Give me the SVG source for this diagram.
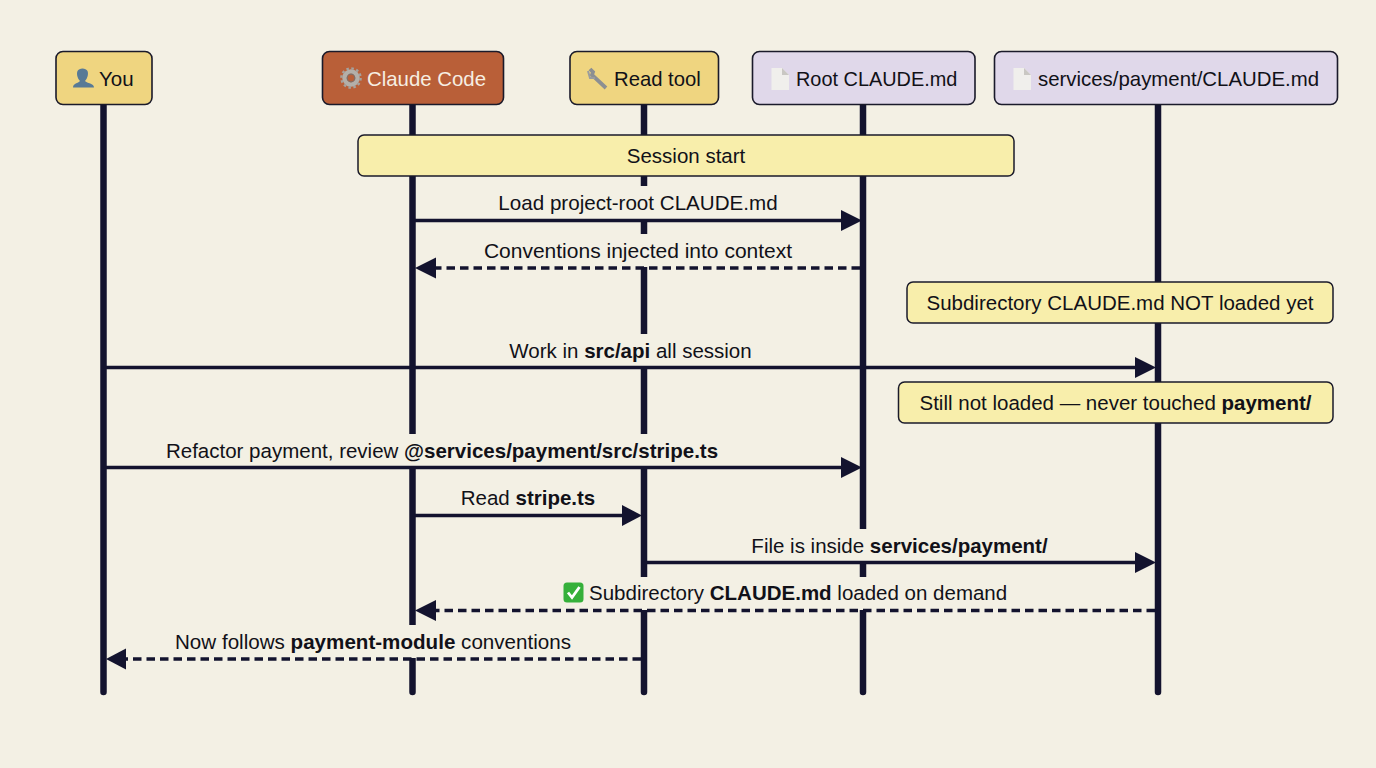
<svg xmlns="http://www.w3.org/2000/svg" width="1376" height="768" viewBox="0 0 1376 768">
<style>
text{font-family:"Liberation Sans",Arial,sans-serif;font-size:20.5px;fill:#111118}
.m{text-anchor:middle}
.b{font-weight:700}
.node{stroke:#1a1a2a;stroke-width:1.6}
.life{stroke:#13132e;stroke-width:6.5;stroke-linecap:round;fill:none}
.msg{stroke:#13132e;stroke-width:3.6;fill:none}
.dash{stroke-dasharray:8.5 5}
.head{fill:#13132e}
.bg{fill:#f3f0e4}
.note{fill:#f8eeab;stroke:#1a1a2a;stroke-width:1.5}
</style>
<rect width="1376" height="768" fill="#f3f0e4"/>
<g id="lifelines">
<path class="life" d="M103.5 105V692"/>
<path class="life" d="M412.5 105V692"/>
<path class="life" d="M644 105V692"/>
<path class="life" d="M863 105V692"/>
<path class="life" d="M1158 105V692"/>
</g>
<g id="label-backgrounds">
<rect class="bg" x="496" y="186" width="284" height="34"/>
<rect class="bg" x="482" y="234" width="312" height="33"/>
<rect class="bg" x="508" y="334" width="245" height="33"/>
<rect class="bg" x="163" y="434" width="558" height="33"/>
<rect class="bg" x="750" y="529" width="299" height="33"/>
<rect class="bg" x="561" y="577" width="446" height="33"/>
<rect class="bg" x="172" y="625" width="402" height="33"/>
</g>
<g id="connectors">
<path class="msg" d="M415 220.500H842"/><path class="head" d="M841 210L862 220.500L841 231Z"/>
<path class="msg dash" d="M860 268H436"/><path class="head" d="M436 257.500L415 268L436 278.500Z"/>
<path class="msg" d="M106 367.500H1136"/><path class="head" d="M1135 357L1156 367.500L1135 378Z"/>
<path class="msg" d="M106 467.500H842"/><path class="head" d="M841 457L862 467.500L841 478Z"/>
<path class="msg" d="M415 515.500H623"/><path class="head" d="M622 505L642 515.500L622 526Z"/>
<path class="msg" d="M647 562.500H1136"/><path class="head" d="M1135 552L1156 562.500L1135 573Z"/>
<path class="msg dash" d="M1155 610.500H436"/><path class="head" d="M436 600L415 610.500L436 621Z"/>
<path class="msg dash" d="M641 659H125"/><path class="head" d="M126 648.500L106 659L126 669.500Z"/>
</g>
<g id="labels">
<text class="m" x="638" y="210" style="font-size:20.6px">Load project-root CLAUDE.md</text>
<text class="m" x="638" y="258" style="font-size:21px">Conventions injected into context</text>
<text class="m" x="630.500" y="358">Work in <tspan class="b">src/api</tspan> all session</text>
<text class="m" x="442" y="458">Refactor payment, review <tspan class="b">@services/payment/src/stripe.ts</tspan></text>
<text class="m" x="528" y="505">Read <tspan class="b">stripe.ts</tspan></text>
<text class="m" x="899.500" y="553">File is inside <tspan class="b">services/payment/</tspan></text>
<text x="589" y="600">Subdirectory <tspan class="b">CLAUDE.md</tspan> loaded on demand</text>
<text class="m" x="373" y="649" style="font-size:20.6px">Now follows <tspan class="b">payment-module</tspan> conventions</text>
</g>
<g id="note-session"><rect class="note" x="358" y="135" width="656" height="41" rx="6"/><text class="m" x="686" y="163">Session start</text></g>
<g id="note-not-loaded"><rect class="note" x="907" y="282" width="426" height="41" rx="6"/><text class="m" x="1120" y="310">Subdirectory CLAUDE.md NOT loaded yet</text></g>
<g id="note-still"><rect class="note" x="898.500" y="382" width="434.500" height="41" rx="6"/><text class="m" x="1115.500" y="410">Still not loaded — never touched <tspan class="b">payment/</tspan></text></g>
<g id="check-icon">
<rect x="563.500" y="582.500" width="20" height="20" rx="3.500" fill="#35b03a"/>
<path d="M568 592.500L572 597.500L579.500 587" fill="none" stroke="#fff" stroke-width="2.800"/>
</g>
<g id="node-you">
<rect class="node" x="56" y="51.500" width="96" height="53" rx="7" fill="#efd580"/>
<path d="M73 87.500C73 83 78 83.500 80 81C77 78 76.500 73 77.500 71C79 67.500 86 67.500 87.500 71C88.500 73 88 78 85 81C87 83.500 94 83 94 87.500Z" fill="#587a96"/>
<text x="99" y="86">You</text>
</g>
<g id="node-claude">
<rect class="node" x="322.500" y="51.500" width="181" height="53" rx="7" fill="#b95f38"/>
<circle cx="351" cy="78" r="6.500" fill="none" stroke="#b3afa9" stroke-width="4.500"/>
<circle cx="351" cy="78" r="3.800" fill="none" stroke="#7f6f68" stroke-width="1.200"/>
<circle cx="351" cy="78" r="9.600" fill="none" stroke="#a5a29e" stroke-width="2.400" stroke-dasharray="2.500 2.530"/>
<text x="367" y="86" style="fill:#f6eee2;font-size:20.4px">Claude Code</text>
</g>
<g id="node-read">
<rect class="node" x="570" y="51.500" width="148.500" height="53" rx="7" fill="#efd580"/>
<path d="M590 69L593 72L592 75L606 88" fill="none" stroke="#8c8f92" stroke-width="3.800"/>
<path d="M588 71L590 78L595 78" fill="none" stroke="#9a9c9e" stroke-width="2"/>
<text x="614" y="86" style="font-size:20.3px">Read tool</text>
</g>
<g id="node-root">
<rect class="node" x="752.500" y="51.500" width="222.500" height="53" rx="7" fill="#e0d8ea"/>
<path d="M771.500 68H782L789 75V90H771.500Z" fill="#f0efec"/>
<path d="M782 68V75H789Z" fill="#c9c7c3"/>
<text x="796" y="86" style="font-size:19.9px">Root CLAUDE.md</text>
</g>
<g id="node-services">
<rect class="node" x="994.500" y="51.500" width="343" height="53" rx="7" fill="#e0d8ea"/>
<path d="M1013.500 68H1024L1031 75V90H1013.500Z" fill="#f0efec"/>
<path d="M1024 68V75H1031Z" fill="#c9c7c3"/>
<text x="1038" y="86" style="font-size:20.4px">services/payment/CLAUDE.md</text>
</g>
</svg>
